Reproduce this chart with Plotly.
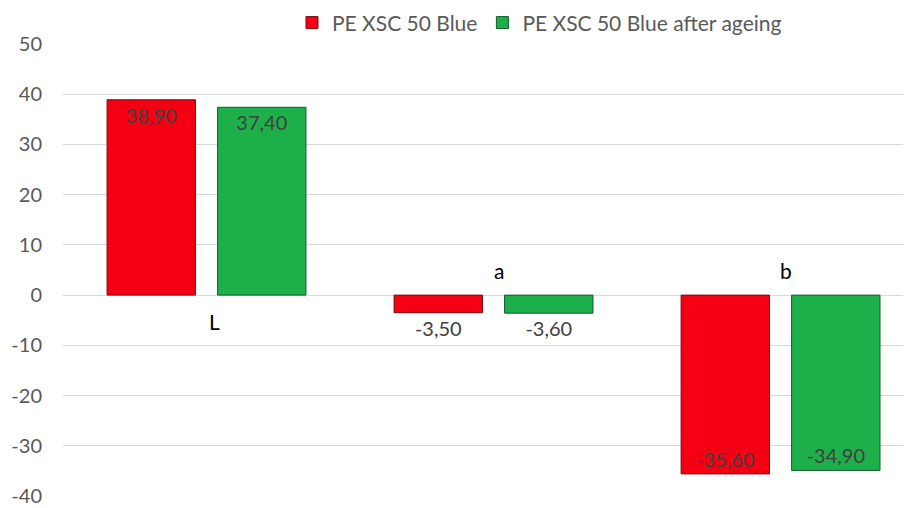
import plotly.graph_objects as go

categories = ["L", "a", "b"]
series_names = ["PE XSC 50 Blue", "PE XSC 50 Blue after ageing"]
before = [38.90, -3.50, -35.60]
after = [37.40, -3.60, -34.90]
y_ticks = [50, 40, 30, 20, 10, 0, -10, -20, -30, -40]

FONT = "Lato, 'Open Sans', sans-serif"

def fmt(v):
    return f"{v:.2f}".replace(".", ",")

def positions(vals):
    return ["inside" if abs(v) > 10 else "outside" for v in vals]

fig = go.Figure()
for name, vals, col, lc in [(series_names[0], before, "#F50012", "#7a0a10"),
                            (series_names[1], after, "#1DB04A", "#145c2a")]:
    fig.add_trace(go.Bar(
        x=categories, y=vals, name=name,
        marker=dict(color=col, line=dict(color=lc, width=1)),
        text=[fmt(v) for v in vals], texttemplate="%{text}",
        textposition=positions(vals),
        insidetextanchor="end", textangle=0,
        textfont=dict(color="#404040", size=20, family=FONT),
        cliponaxis=False,
    ))

annotations = []
for c, v in zip(categories, before):
    if v >= 0:
        annotations.append(dict(x=c, y=0, yref="y", xref="x", text=c, showarrow=False,
                                yanchor="top", yshift=-12, xshift=8,
                                font=dict(size=21, color="#000000", family=FONT)))
    else:
        annotations.append(dict(x=c, y=0, yref="y", xref="x", text=c, showarrow=False,
                                yanchor="bottom", yshift=10, xshift=5,
                                font=dict(size=21, color="#000000", family=FONT)))

fig.update_layout(
    width=903, height=500,
    margin=dict(l=55, r=1, t=36, b=12, autoexpand=False),
    paper_bgcolor="white", plot_bgcolor="white",
    barmode="group", bargap=0.23, bargroupgap=0.2,
    font=dict(family=FONT, color="#595959", size=20),
    showlegend=True,
    legend=dict(orientation="h", x=0.3145, xanchor="left", xref="container",
                y=1.092, yanchor="top", yref="paper",
                font=dict(size=21, color="#595959"),
                itemwidth=30, tracegroupgap=0),
    annotations=annotations,
    xaxis=dict(range=[-0.5, 2.451], showticklabels=False, showgrid=False,
               zeroline=False, showline=False, ticks="", automargin=False),
    yaxis=dict(range=[-40, 50], tickvals=y_ticks, ticktext=[str(t) for t in y_ticks],
               showgrid=True, gridcolor="#D9D9D9",
               gridwidth=1, zeroline=True, zerolinecolor="#D9D9D9", zerolinewidth=1,
               showline=False, ticks="", ticklabelstandoff=20, automargin=False,
               tickfont=dict(size=20, color="#595959")),
)

fig.write_html("out.html")
